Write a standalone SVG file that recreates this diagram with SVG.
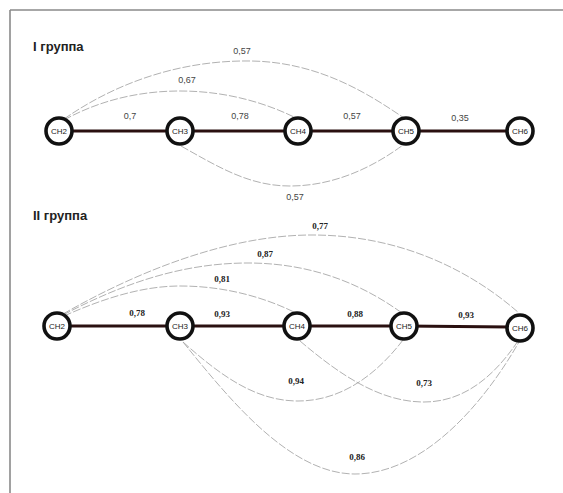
<svg xmlns="http://www.w3.org/2000/svg" width="563" height="493" viewBox="0 0 563 493">
<style>
.frame{stroke:#8a8a8a;stroke-width:1.6;fill:none}
.edge{stroke:#2a1010;stroke-width:3;fill:none}
.arc{stroke:#a8a8a8;stroke-width:0.9;fill:none;stroke-dasharray:8 2}
.node circle{fill:#fff;stroke:#111;stroke-width:3.6}
.node text{font-family:"Liberation Sans Narrow","Liberation Sans",Arial,sans-serif;font-size:8px;fill:#222;text-anchor:middle}
.title{font-family:"Liberation Sans",Arial,sans-serif;font-size:13px;font-weight:bold;fill:#222}
.l1{font-family:"Liberation Sans",Arial,sans-serif;font-size:9px;fill:#444;text-anchor:middle}
.l2{font-family:"Liberation Serif","Times New Roman",serif;font-size:9px;font-weight:bold;fill:#222;text-anchor:middle}
</style>
<rect width="563" height="493" fill="#fff"/>
<line class="frame" x1="10" y1="10" x2="563" y2="10"/>
<line class="frame" x1="10" y1="10" x2="10" y2="493"/>
<text class="title" x="33" y="51">I группа</text>
<text class="title" x="33" y="220">II группа</text>
<g id="connectors">
<path class="edge" d="M59,131 H520"/>
<path class="arc" d="M64,119 C120,80 185,60 251,61 C320,62 370,95 404,118"/>
<path class="arc" d="M64,120 C100,100 140,91 180,91 C230,91 270,105 296,118"/>
<path class="arc" d="M181,146 C220,168 250,186 290,186 C340,186 380,162 403,145"/>
<path class="edge" d="M57,326 H404 L520,327"/>
<path class="arc" d="M63,314 C140,270 230,235 312,235 C400,235 470,270 519,313"/>
<path class="arc" d="M63,315 C120,285 180,263 248,263 C320,263 370,290 402,313"/>
<path class="arc" d="M64,316 C100,300 140,286 180,286 C230,286 270,300 296,313"/>
<path class="arc" d="M183,342 C220,375 255,401 298,401 C345,401 380,370 403,340"/>
<path class="arc" d="M300,341 C340,375 380,402 424,402 C465,402 495,375 518,341"/>
<path class="arc" d="M183,342 C230,400 290,474 355,474 C420,474 480,410 519,342"/>
</g>
<g id="g1-CH2" class="node"><circle cx="59" cy="131" r="13"/><text x="59" y="134">CH2</text></g>
<g id="g1-CH3" class="node"><circle cx="180" cy="131" r="13"/><text x="180" y="134">CH3</text></g>
<g id="g1-CH4" class="node"><circle cx="298" cy="131" r="13"/><text x="298" y="134">CH4</text></g>
<g id="g1-CH5" class="node"><circle cx="406" cy="131" r="13"/><text x="406" y="134">CH5</text></g>
<g id="g1-CH6" class="node"><circle cx="520" cy="131" r="13"/><text x="520" y="134">CH6</text></g>
<g id="g2-CH2" class="node"><circle cx="57" cy="326" r="13"/><text x="57" y="329">CH2</text></g>
<g id="g2-CH3" class="node"><circle cx="180" cy="326" r="13"/><text x="180" y="329">CH3</text></g>
<g id="g2-CH4" class="node"><circle cx="297" cy="326" r="13"/><text x="297" y="329">CH4</text></g>
<g id="g2-CH5" class="node"><circle cx="404" cy="326" r="13"/><text x="404" y="329">CH5</text></g>
<g id="g2-CH6" class="node"><circle cx="520" cy="328" r="13"/><text x="520" y="331">CH6</text></g>
<g id="labels">
<text class="l1" x="242" y="54">0,57</text>
<text class="l1" x="187" y="83">0,67</text>
<text class="l1" x="130" y="119">0,7</text>
<text class="l1" x="240" y="119">0,78</text>
<text class="l1" x="352" y="119">0,57</text>
<text class="l1" x="460" y="121">0,35</text>
<text class="l1" x="295" y="200">0,57</text>
<text class="l2" x="320" y="229">0,77</text>
<text class="l2" x="265" y="257">0,87</text>
<text class="l2" x="222" y="282">0,81</text>
<text class="l2" x="137" y="316">0,78</text>
<text class="l2" x="222" y="317">0,93</text>
<text class="l2" x="355" y="317">0,88</text>
<text class="l2" x="466" y="318">0,93</text>
<text class="l2" x="296" y="384">0,94</text>
<text class="l2" x="424" y="386">0,73</text>
<text class="l2" x="357" y="460">0,86</text>
</g>
</svg>
